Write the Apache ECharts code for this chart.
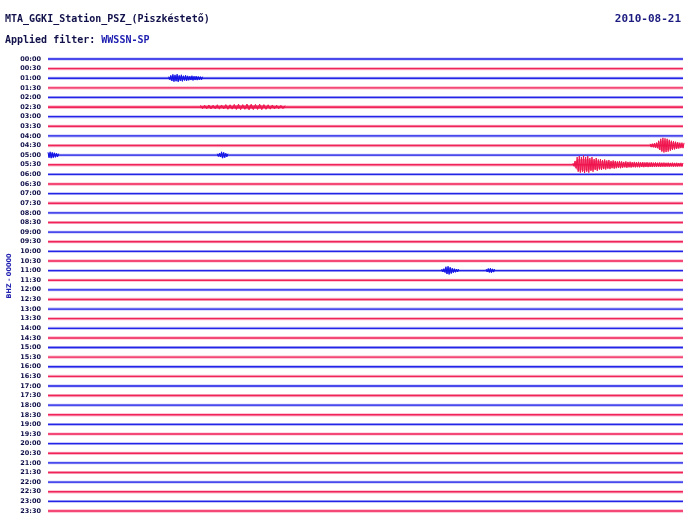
<!DOCTYPE html>
<html>
<head>
<meta charset="utf-8">
<script src="https://cdn.jsdelivr.net/npm/echarts@6/dist/echarts.min.js"></script>
<style>html,body{margin:0;padding:0;background:#fff}#c{width:688px;height:524px}</style>
</head>
<body>
<div id="c"></div>
<script>
// ---- data ----
const timeLabels = ['00:00','00:30','01:00','01:30','02:00','02:30','03:00','03:30','04:00','04:30','05:00','05:30',
  '06:00','06:30','07:00','07:30','08:00','08:30','09:00','09:30','10:00','10:30','11:00','11:30',
  '12:00','12:30','13:00','13:30','14:00','14:30','15:00','15:30','16:00','16:30','17:00','17:30',
  '18:00','18:30','19:00','19:30','20:00','20:30','21:00','21:30','22:00','22:30','23:00','23:30'];
// background noise amplitude of each trace (counts; 10 counts = one trace spacing)
const noiseAmp = [1.5,1.7,1.5,1.6,1.5,1.9,1.5,1.7,1.5,1.7,1.5,1.7,
  1.5,1.7,1.5,1.7,1.5,1.6,1.5,1.7,1.5,1.7,1.5,1.6,
  1.5,1.7,1.5,1.6,1.5,1.7,1.5,1.7,1.5,1.6,1.5,1.7,
  1.5,1.7,1.5,1.6,1.5,1.7,1.5,1.6,1.5,1.7,1.5,1.7];
// events: trace index, start minute within the 30-min trace, sample step (min), envelope amplitudes
const eventRows  = [2, 5, 9, 10, 10, 11, 22, 22];
const eventStart = [5.7, 7.2, 28.45, 0.0, 8.0, 24.8, 18.6, 20.7];
const eventStep  = [0.1, 0.2, 0.1, 0.1, 0.1, 0.1, 0.1, 0.1];
const eventAmp = [
  [1.6,3.0,4.0,3.5,4.2,3.0,3.6,2.6,3.1,2.5,2.1,2.6,2.1,2.2,1.9,1.7,1.6],
  [1.8,2.0,2.2,2.0,2.4,2.2,2.6,2.4,2.8,3.0,2.6,3.2,3.0,2.8,3.0,2.6,2.4,2.2,2.0,1.8,1.6],
  [1.8,2.0,2.5,3.0,5.0,7.0,8.0,7.5,7.0,6.0,5.0,4.5,4.0,3.5,3.0,3.0,2.8],
  [3.0,3.5,3.0,2.5,2.0,1.6],
  [1.5,2.0,3.5,3.0,2.0,1.5],
  [1.5,4.0,8.0,9.0,8.0,9.5,8.0,9.0,7.0,8.0,6.0,7.0,5.5,6.0,5.0,5.5,4.5,5.0,4.0,4.5,4.0,3.5,4.0,3.5,3.0,3.5,3.0,3.2,2.8,3.0,2.8,3.0,2.6,2.8,2.5,2.7,2.4,2.6,2.3,2.5,2.2,2.4,2.2,2.3,2.1,2.2,2.0,2.2,2.0,2.1,1.9,2.0,1.9],
  [1.5,2.0,4.0,4.5,3.5,2.5,2.0,1.5,1.5],
  [1.5,2.2,2.5,1.8,1.5]
];
const dateText = '2010-08-21';
const stationText = 'MTA_GGKI_Station_PSZ_(Piszkéstető)';
const filterName = 'WWSSN-SP';
const channelText = 'BHZ - 00000';

// ---- styles ----
const BLUE = '#1414e6', RED = '#f0144e', INK = '#10104a';
const traceColor = r => (r % 2 === 0 ? BLUE : RED);
const MONO = '"DejaVu Sans Mono", monospace';

const chart = echarts.init(document.getElementById('c'), null, {renderer: 'canvas'});
chart.setOption({
  animation: false,
  backgroundColor: '#fff',
  grid: {left: 48, right: 5, top: 59, bottom: 13},
  xAxis: {type: 'value', min: 0, max: 30, show: false},
  yAxis: {
    type: 'value', min: 0, max: (timeLabels.length - 1) * 10, interval: 10, inverse: true,
    axisLine: {show: false}, axisTick: {show: false}, splitLine: {show: false},
    axisLabel: {
      margin: 7, fontSize: 6.5, color: INK, fontFamily: 'DejaVu Sans', fontWeight: 'bold',
      formatter: v => timeLabels[Math.round(v / 10)] || ''
    }
  },
  graphic: [
    {type: 'text', left: 5, top: 14, style: {text: stationText, font: 'bold 10px ' + MONO, fill: INK}},
    {type: 'text', left: 5, top: 35, style: {text: '{a|Applied filter: }{b|' + filterName + '}',
      font: 'bold 10px ' + MONO,
      rich: {a: {font: 'bold 10px ' + MONO, fill: INK},
             b: {font: 'bold 10px ' + MONO, fill: '#1c1cb0'}}}},
    {type: 'text', right: 7, top: 14, style: {text: dateText, font: 'bold 11px ' + MONO, fill: '#1a1a80'}},
    {type: 'text', x: 9, y: 276, rotation: Math.PI / 2,
      style: {text: channelText, font: 'bold 6.5px "DejaVu Sans"', fill: '#2020b0', align: 'center', verticalAlign: 'middle'}}
  ],
  series: [
    {
      type: 'custom', silent: true, clip: false,
      data: noiseAmp.map((a, r) => [0, r * 10, a]),
      renderItem: (params, api) => {
        const r = params.dataIndex;
        const y = api.value(1), a = api.value(2);
        const p0 = api.coord([0, y - a]), p1 = api.coord([30, y + a]);
        const c0 = api.coord([0, y - a * 0.45]), c1 = api.coord([30, y + a * 0.45]);
        return {type: 'group', children: [
          {type: 'rect', shape: {x: p0[0], y: Math.min(p0[1], p1[1]), width: p1[0] - p0[0], height: Math.abs(p1[1] - p0[1])},
           style: {fill: traceColor(r), opacity: 0.3}},
          {type: 'rect', shape: {x: c0[0], y: Math.min(c0[1], c1[1]), width: c1[0] - c0[0], height: Math.abs(c1[1] - c0[1])},
           style: {fill: traceColor(r), opacity: 0.9}}
        ]};
      }
    },
    {
      type: 'custom', silent: true, clip: false,
      data: eventRows.map((r, i) => [eventStart[i], r * 10]),
      renderItem: (params, api) => {
        const i = params.dataIndex;
        const r = eventRows[i], y = r * 10, amps = eventAmp[i], st = eventStep[i];
        const zig = [], env = [];
        amps.forEach((a, k) => {
          zig.push(api.coord([eventStart[i] + k * st, y - a]));
          if (k < amps.length - 1) zig.push(api.coord([eventStart[i] + (k + 0.5) * st, y + a * 0.9]));
          env.push(api.coord([eventStart[i] + k * st, y - a * 0.7]));
        });
        for (let k = amps.length - 1; k >= 0; k--) env.push(api.coord([eventStart[i] + k * st, y + amps[k] * 0.7]));
        return {type: 'group', children: [
          {type: 'polygon', shape: {points: env}, style: {fill: traceColor(r), opacity: 0.55}},
          {type: 'polyline', shape: {points: zig}, style: {stroke: traceColor(r), lineWidth: 1, fill: null}}
        ]};
      }
    }
  ]
});
</script>
</body>
</html>
